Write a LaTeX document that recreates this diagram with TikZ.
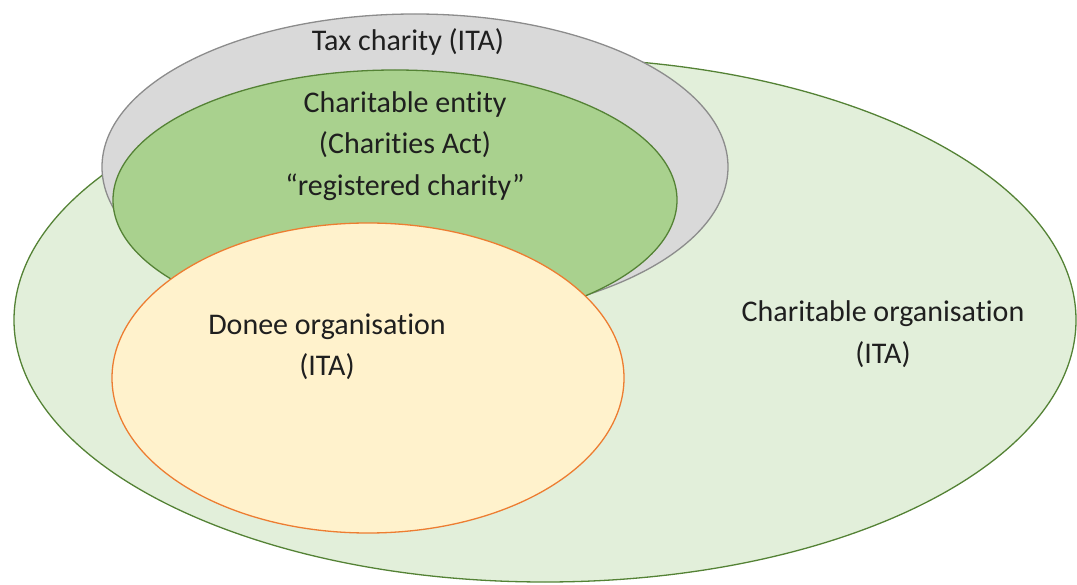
\documentclass[tikz,border=0pt]{standalone}
\usepackage{fontspec}
\setmainfont[Ligatures=NoCommon]{Carlito}
\definecolor{orgfill}{HTML}{E2EFDA}
\definecolor{orgline}{HTML}{548235}
\definecolor{taxfill}{HTML}{D9D9D9}
\definecolor{taxline}{HTML}{8C8C8C}
\definecolor{entfill}{HTML}{A9D18E}
\definecolor{doneefill}{HTML}{FFF2CC}
\definecolor{doneeline}{HTML}{ED7D31}
\begin{document}
\begin{tikzpicture}[x=1pt,y=-1pt,
    venntext/.style={align=center,text=black!88,font=\fontsize{30}{41.5}\selectfont},
    vennset/.style={line width=1.3pt}]
  \useasboundingbox (0,0) rectangle (1077,585);

  % charitable organisation (ITA), the outer set
  \filldraw[vennset,fill=orgfill,draw=orgline] (545,320) ellipse[x radius=531pt,y radius=262pt];

  % tax charity (ITA)
  \filldraw[vennset,fill=taxfill,draw=taxline] (415,167) ellipse[x radius=313pt,y radius=153pt];

  % charitable entity (Charities Act)
  \filldraw[vennset,fill=entfill,draw=orgline] (395,200) ellipse[x radius=282pt,y radius=130pt];

  % donee organisation (ITA)
  \filldraw[vennset,fill=doneefill,draw=doneeline] (368,378) ellipse[x radius=256pt,y radius=155pt];

  % text in the sets
  \node[venntext] (tax) at (408,42) {Tax charity (ITA)};
  \node[venntext] (entity) at (405,146) {Charitable entity\\(Charities Act)\\“registered charity”};
  \node[venntext] (donee) at (327,347) {Donee organisation\\(ITA)};
  \node[venntext] (org) at (883,334) {Charitable organisation\\(ITA)};
\end{tikzpicture}
\end{document}
